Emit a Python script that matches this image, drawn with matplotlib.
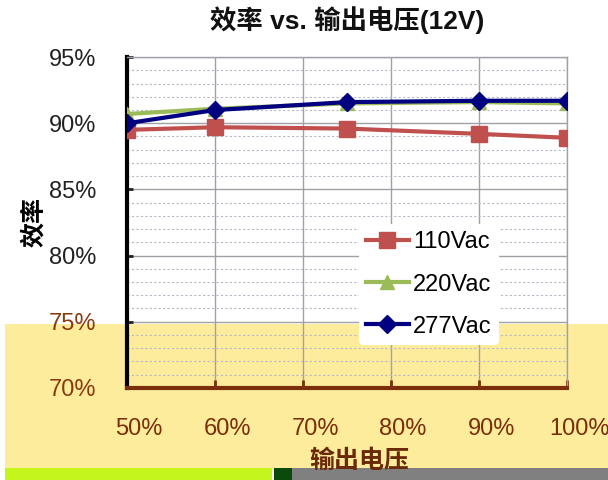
import matplotlib
matplotlib.use('Agg')
import matplotlib.pyplot as plt
import matplotlib.transforms as mtransforms
from matplotlib.patches import Rectangle
from matplotlib.ticker import MultipleLocator, FuncFormatter

plt.rcParams['font.family'] = ['Liberation Sans', 'Noto Sans CJK SC', 'DejaVu Sans']

# data
load_pct = [50, 60, 75, 90, 100]
eff_110 = [89.5, 89.7, 89.6, 89.2, 88.9]
eff_220 = [90.7, 91.1, 91.5, 91.6, 91.5]
eff_277 = [90.0, 91.0, 91.6, 91.7, 91.7]
series_names = ['110Vac', '220Vac', '277Vac']

fig = plt.figure(figsize=(6.08, 4.8), dpi=100)

# yellow band / strips seen at the bottom of the reference
fig.patches.append(Rectangle((0.008, 0.02), 0.992, 0.305, transform=fig.transFigure,
                             facecolor='#fdec9c', edgecolor='none', zorder=0))
fig.patches.append(Rectangle((0.008, 0.0), 0.44, 0.025, transform=fig.transFigure,
                             facecolor='#c4f51c', edgecolor='none', zorder=0))
fig.patches.append(Rectangle((0.45, 0.0), 0.03, 0.025, transform=fig.transFigure,
                             facecolor='#0a4a0a', edgecolor='none', zorder=0))
fig.patches.append(Rectangle((0.48, 0.0), 0.52, 0.025, transform=fig.transFigure,
                             facecolor='#808080', edgecolor='none', zorder=0))

ax = fig.add_axes([0.209, 0.192, 0.724, 0.689])
ax.set_facecolor('none')
ax.set_zorder(2)

ax.plot(load_pct, eff_110, color='#c0504d', lw=3, marker='s', ms=11, label=series_names[0], zorder=3)
ax.plot(load_pct, eff_220, color='#9bbb59', lw=3, marker='^', ms=10, label=series_names[1], zorder=3)
ax.plot(load_pct, eff_277, color='#000080', lw=3, marker='D', ms=9, label=series_names[2], zorder=4)

ax.set_xlim(50, 100)
ax.set_ylim(70, 95)
ax.xaxis.set_major_locator(MultipleLocator(10))
ax.yaxis.set_major_locator(MultipleLocator(5))
ax.yaxis.set_minor_locator(MultipleLocator(1))
pct = FuncFormatter(lambda v, p: '%d%%' % v)
ax.xaxis.set_major_formatter(pct)
ax.yaxis.set_major_formatter(pct)

ax.grid(which='major', axis='both', color='#a0a0a8', lw=1)
ax.grid(which='minor', axis='y', color='#b8b8c8', lw=0.8, ls=(0, (2, 2)))
ax.set_axisbelow(True)

for s in ['top', 'right']:
    ax.spines[s].set_color('#a0a0a8')
    ax.spines[s].set_linewidth(1)
ax.spines['left'].set_linewidth(3)
ax.spines['left'].set_color('black')
ax.spines['bottom'].set_linewidth(3)
ax.spines['bottom'].set_color('#7a2e0a')

ax.tick_params(axis='y', which='major', labelsize=17, length=4, width=2, direction='in', pad=22, colors='#222222')
ax.tick_params(axis='y', which='minor', length=0)
ax.tick_params(axis='x', labelsize=17, length=6, width=2, direction='in', pad=22,
               colors='#7a2e0a')
for lbl in ax.get_yticklabels():
    if lbl.get_text() in ('70%', '75%'):
        lbl.set_color('#8b3a0f')

# the bottom part of the reference is shifted a bit to the right
shift = mtransforms.ScaledTranslation(12 / 100, 0, fig.dpi_scale_trans)
for lbl in ax.get_xticklabels():
    lbl.set_transform(lbl.get_transform() + shift)

ax.set_title('效率 vs. 输出电压(12V)', fontsize=19, fontweight='bold', pad=20, color='#111111')
ax.set_ylabel('效率', fontsize=18, fontweight='bold', labelpad=2)
ax.set_xlabel('输出电压', fontsize=18, fontweight='bold', color='#6a2a0a', labelpad=6)
ax.xaxis.label.set_transform(ax.xaxis.label.get_transform() + shift)

leg = ax.legend(loc='upper left', bbox_to_anchor=(0.5, 0.53), frameon=True, fontsize=17,
                handlelength=1.8, handletextpad=0.2, labelspacing=0.85, borderpad=0.3)
leg.get_frame().set_facecolor('white')
leg.get_frame().set_edgecolor('none')
leg.get_frame().set_alpha(1)

fig.savefig('out.png', dpi=100)
